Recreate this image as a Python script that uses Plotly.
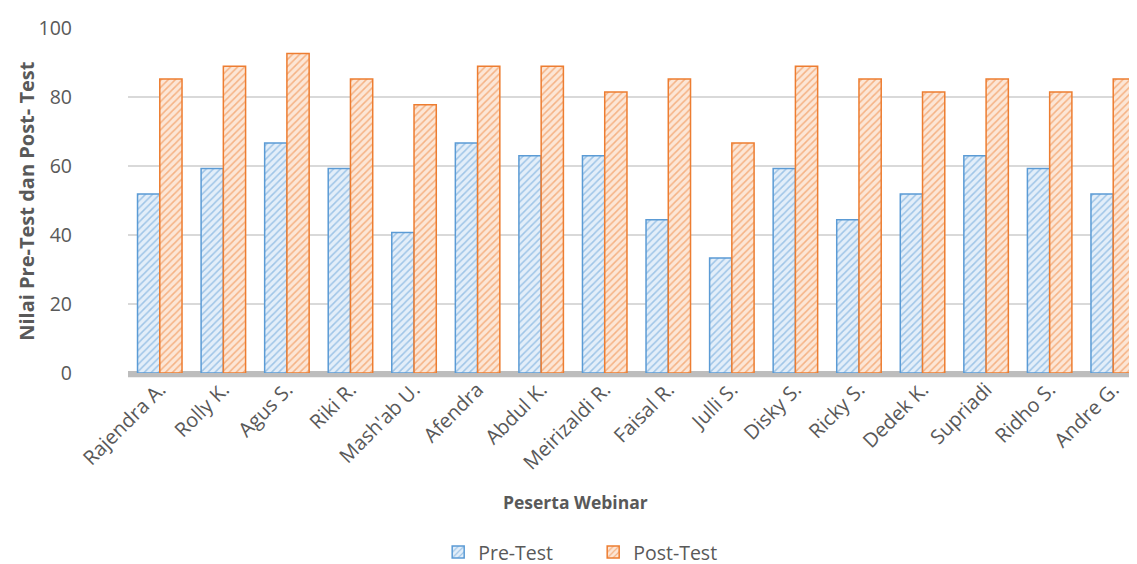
import plotly.graph_objects as go

participants = ["Rajendra A.", "Rolly K.", "Agus S.", "Riki R.", "Mash'ab U.", "Afendra",
                "Abdul K.", "Meirizaldi R.", "Faisal R.", "Julli S.", "Disky S.", "Ricky S.",
                "Dedek K.", "Supriadi", "Ridho S.", "Andre G."]
pre_test = [51.85, 59.26, 66.67, 59.26, 40.74, 66.67, 62.96, 62.96, 44.44, 33.33,
            59.26, 44.44, 51.85, 62.96, 59.26, 51.85]
post_test = [85.19, 88.89, 92.59, 85.19, 77.78, 88.89, 88.89, 81.48, 85.19, 66.67,
             88.89, 85.19, 81.48, 85.19, 81.48, 85.19]
y_ticks = [0, 20, 40, 60, 80, 100]

FONT = "Open Sans"
TXT = "#595959"

fig = go.Figure()
fig.add_trace(go.Bar(
    x=participants, y=pre_test, name="Pre-Test",
    marker=dict(color="#DDEBF7",
                line=dict(color="#5B9BD5", width=1.5),
                pattern=dict(shape="/", fgcolor="#5B9BD5", bgcolor="#E3EEF9",
                             size=5, solidity=0.3)),
))
fig.add_trace(go.Bar(
    x=participants, y=post_test, name="Post-Test",
    marker=dict(color="#FBE5D6",
                line=dict(color="#ED7D31", width=1.5),
                pattern=dict(shape="/", fgcolor="#ED7D31", bgcolor="#FCE6D6",
                             size=5, solidity=0.3)),
))

# grey floor
fig.add_shape(type="rect", xref="paper", yref="paper", x0=0, x1=1, y0=-0.012, y1=0.006,
              fillcolor="#BDBDBD", line=dict(width=0), layer="below")

fig.add_annotation(text="<b>Nilai Pre-Test dan Post- Test</b>", xref="paper", yref="paper",
                   x=-0.1, y=0.5, xanchor="center", yanchor="middle",
                   textangle=-90, showarrow=False,
                   font=dict(family=FONT, size=20, color=TXT))
fig.add_annotation(text="<b>Peserta Webinar</b>", xref="paper", yref="paper",
                   x=0.44, y=-0.375, xanchor="center", yanchor="middle", showarrow=False,
                   font=dict(family=FONT, size=17.5, color=TXT))

fig.update_layout(
    width=1137, height=564,
    margin=dict(l=120, r=0, t=20, b=194),
    paper_bgcolor="white", plot_bgcolor="white",
    barmode="group", bargap=0.3, bargroupgap=0.0,
    font=dict(family=FONT, size=19, color=TXT),
    showlegend=True,
    legend=dict(orientation="h", x=0.305, xanchor="left", y=-0.52, yanchor="middle",
                font=dict(family=FONT, size=19.5, color=TXT), itemwidth=30,
                traceorder="normal", entrywidthmode="pixels", entrywidth=110),
    xaxis=dict(tickangle=-45, showgrid=False, showline=False, ticks="",
               tickfont=dict(family=FONT, size=20, color=TXT)),
    yaxis=dict(range=[0, 100], tickvals=y_ticks, showgrid=True, gridcolor="#D9D9D9",
               gridwidth=1.5, zeroline=False, showline=False, ticks="",
               ticklabelstandoff=55,
               tickfont=dict(family=FONT, size=19.5, color=TXT)),
)

fig.write_html("out.html")
